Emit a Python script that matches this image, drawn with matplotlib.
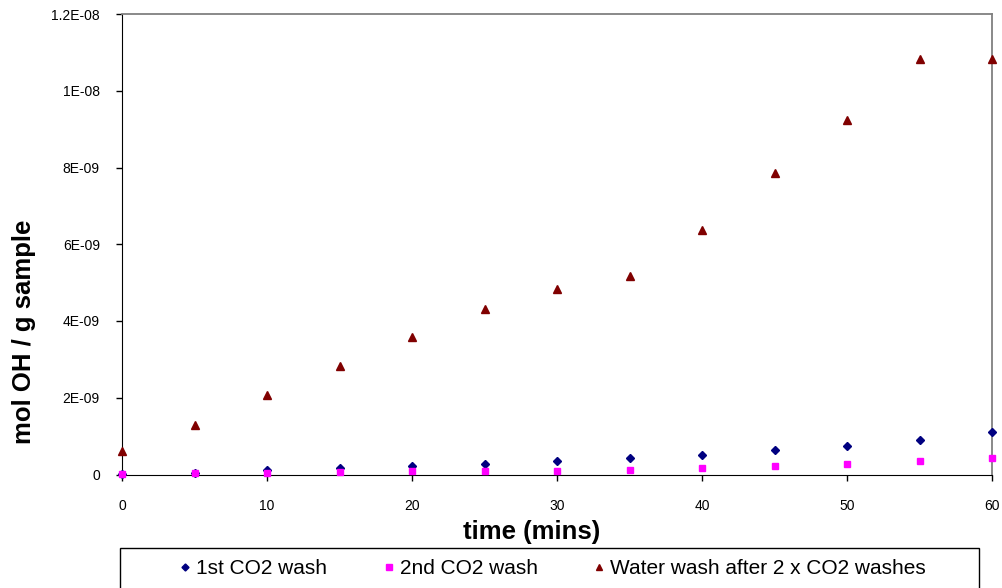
import matplotlib as mpl
mpl.use('Agg')
import matplotlib.pyplot as plt
from matplotlib.patches import Rectangle

plt.rcParams['font.family'] = ['Liberation Sans', 'DejaVu Sans']

# time (mins)
time = [0, 5, 10, 15, 20, 25, 30, 35, 40, 45, 50, 55, 60]
# mol OH / g sample
wash1 = [2e-11, 5e-11, 1.1e-10, 1.7e-10, 2.2e-10, 2.7e-10, 3.4e-10,
         4.2e-10, 5.1e-10, 6.3e-10, 7.4e-10, 8.9e-10, 1.10e-9]
wash2 = [1.5e-11, 3e-11, 4e-11, 6e-11, 8e-11, 9e-11, 1.0e-10,
         1.3e-10, 1.7e-10, 2.2e-10, 2.8e-10, 3.4e-10, 4.2e-10]
water = [6.0e-10, 1.30e-9, 2.06e-9, 2.84e-9, 3.59e-9, 4.32e-9, 4.84e-9,
         5.18e-9, 6.38e-9, 7.86e-9, 9.24e-9, 1.083e-8, 1.083e-8]
labels = ['1st CO2 wash', '2nd CO2 wash', 'Water wash after 2 x CO2 washes']

yticks = [0, 2e-9, 4e-9, 6e-9, 8e-9, 1e-8, 1.2e-8]
yticklabels = ['0', '2E-09', '4E-09', '6E-09', '8E-09', '1E-08', '1.2E-08']
xticks = [0, 10, 20, 30, 40, 50, 60]

W, H = 1002, 588
fig = plt.figure(figsize=(W / 100, H / 100), dpi=100)
ax = fig.add_axes([122 / W, 1 - 474.5 / H, (992 - 122) / W, (474.5 - 14) / H])

ax.plot(time, wash1, linestyle='none', marker='D', markersize=4.2,
        color='#000080', label=labels[0], clip_on=False, zorder=3)
ax.plot(time, wash2, linestyle='none', marker='s', markersize=5,
        color='#FF00FF', label=labels[1], clip_on=False, zorder=3)
ax.plot(time, water, linestyle='none', marker='^', markersize=5.5,
        color='#800000', label=labels[2], clip_on=False, zorder=3)

ax.set_xlim(0, 60)
ax.set_ylim(0, 1.2e-8)
ax.set_xticks(xticks)
ax.set_xticklabels([str(t) for t in xticks], fontsize=10)
ax.set_yticks(yticks)
ax.set_yticklabels(yticklabels, fontsize=10)
ax.tick_params(direction='out', length=4, width=1)
ax.tick_params(axis='y', pad=12)
ax.tick_params(axis='x', pad=14)

for s in ['left', 'bottom']:
    ax.spines[s].set_color('#000000')
for s in ['top', 'right']:
    ax.spines[s].set_color('#808080')
    ax.spines[s].set_linewidth(1.3)

# axis titles (placed as in the reference, not centred on the axes)
fig.text(532 / W, 1 - 532 / H, 'time (mins)', fontsize=18.5, fontweight='bold',
         ha='center', va='center')
fig.text(24 / W, 1 - 332 / H, 'mol OH / g sample', fontsize=18.5, fontweight='bold',
         ha='center', va='center', rotation=90)

# legend box (runs off the bottom edge)
fig.patches.append(Rectangle((120 / W, -0.1), (979 - 120) / W, 0.1 + 1 - 548 / H,
                             transform=fig.transFigure, fill=False,
                             edgecolor='black', linewidth=1))
handles, labs = ax.get_legend_handles_labels()
leg = fig.legend(handles, labs, ncol=3, loc='center',
                 bbox_to_anchor=(553 / W, 1 - 569 / H), frameon=False,
                 fontsize=15, markerscale=0.85, handlelength=0.5,
                 handletextpad=0.28, columnspacing=2.7,
                 borderpad=0, borderaxespad=0)

plt.savefig('out.png', dpi=100)
plt.close(fig)
